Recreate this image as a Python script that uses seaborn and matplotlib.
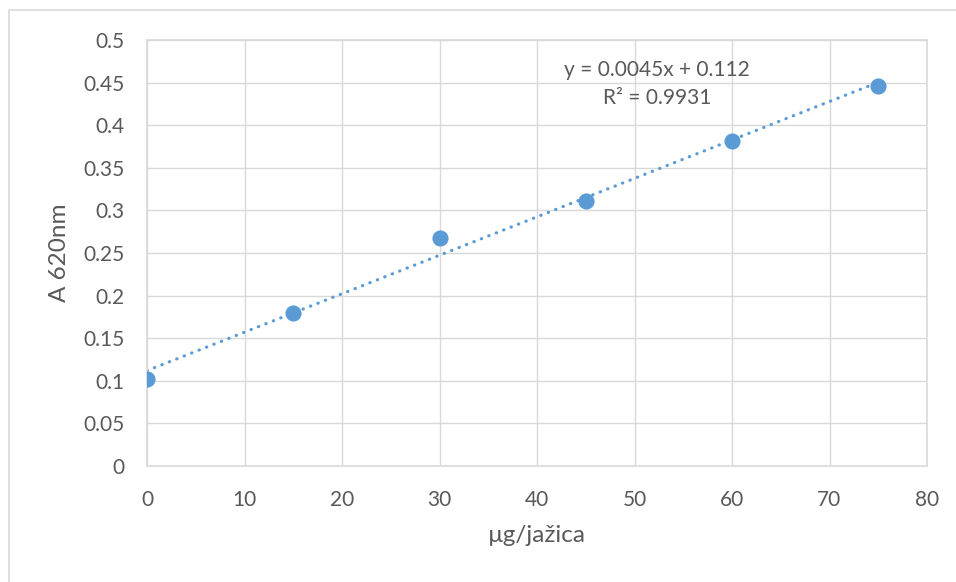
import numpy as np
import pandas as pd
import matplotlib
matplotlib.use("Agg")
import matplotlib.pyplot as plt
import seaborn as sns

# standard curve readings
ug_per_well = [0, 15, 30, 45, 60, 75]
absorbance = [0.102, 0.179, 0.268, 0.311, 0.381, 0.446]
eq_text = "y = 0.0045x + 0.112"
r2_text = "R² = 0.9931"

df = pd.DataFrame({"x": ug_per_well, "y": absorbance})

sns.set_style("white")
plt.rcParams["font.family"] = ["Lato", "DejaVu Sans"]

blue = "#5B9BD5"
grey_txt = "#595959"
grid_c = "#D9D9D9"

fig = plt.figure(figsize=(9.56, 5.82), dpi=100)
ax = fig.add_axes([147/956, 1 - 466/582, 780/956, 426/582])

# outer chart border (only left/top visible in the crop)
fig.patches.append(plt.Rectangle((9/956, -0.1), 1.2, 1 - 10/582 + 0.1,
                                 transform=fig.transFigure, fill=False,
                                 edgecolor=grid_c, linewidth=1.2))

sns.regplot(data=df, x="x", y="y", ax=ax, ci=None, truncate=True,
            scatter_kws=dict(s=135, color=blue, alpha=1, linewidths=0, zorder=3),
            line_kws=dict(color=blue, linewidth=2.3, linestyle=(0, (0.1, 2.4)),
                          dash_capstyle="round", zorder=2))

ax.set_xlim(0, 80)
ax.set_ylim(0, 0.5)
ax.set_xticks(np.arange(0, 81, 10))
ax.set_yticks(np.arange(0, 0.51, 0.05))
ax.set_yticklabels(["0", "0.05", "0.1", "0.15", "0.2", "0.25", "0.3",
                    "0.35", "0.4", "0.45", "0.5"])
ax.grid(True, color=grid_c, linewidth=1)
ax.set_axisbelow(True)
for s in ax.spines.values():
    s.set_color(grid_c)
    s.set_linewidth(1.2)
ax.tick_params(axis="both", length=0, labelsize=15, colors=grey_txt)
ax.tick_params(axis="y", pad=16)
ax.tick_params(axis="x", pad=17)

ax.set_xlabel("µg/jažica", fontsize=17.5, color=grey_txt, labelpad=11)
ax.set_ylabel("A 620nm", fontsize=17.5, color=grey_txt, labelpad=10)

ax.text(52.3, 0.465, eq_text, ha="center", va="center", fontsize=15, color=grey_txt)
ax.text(52.3, 0.432, r2_text, ha="center", va="center", fontsize=15, color=grey_txt)

fig.savefig("out.png", dpi=100)
